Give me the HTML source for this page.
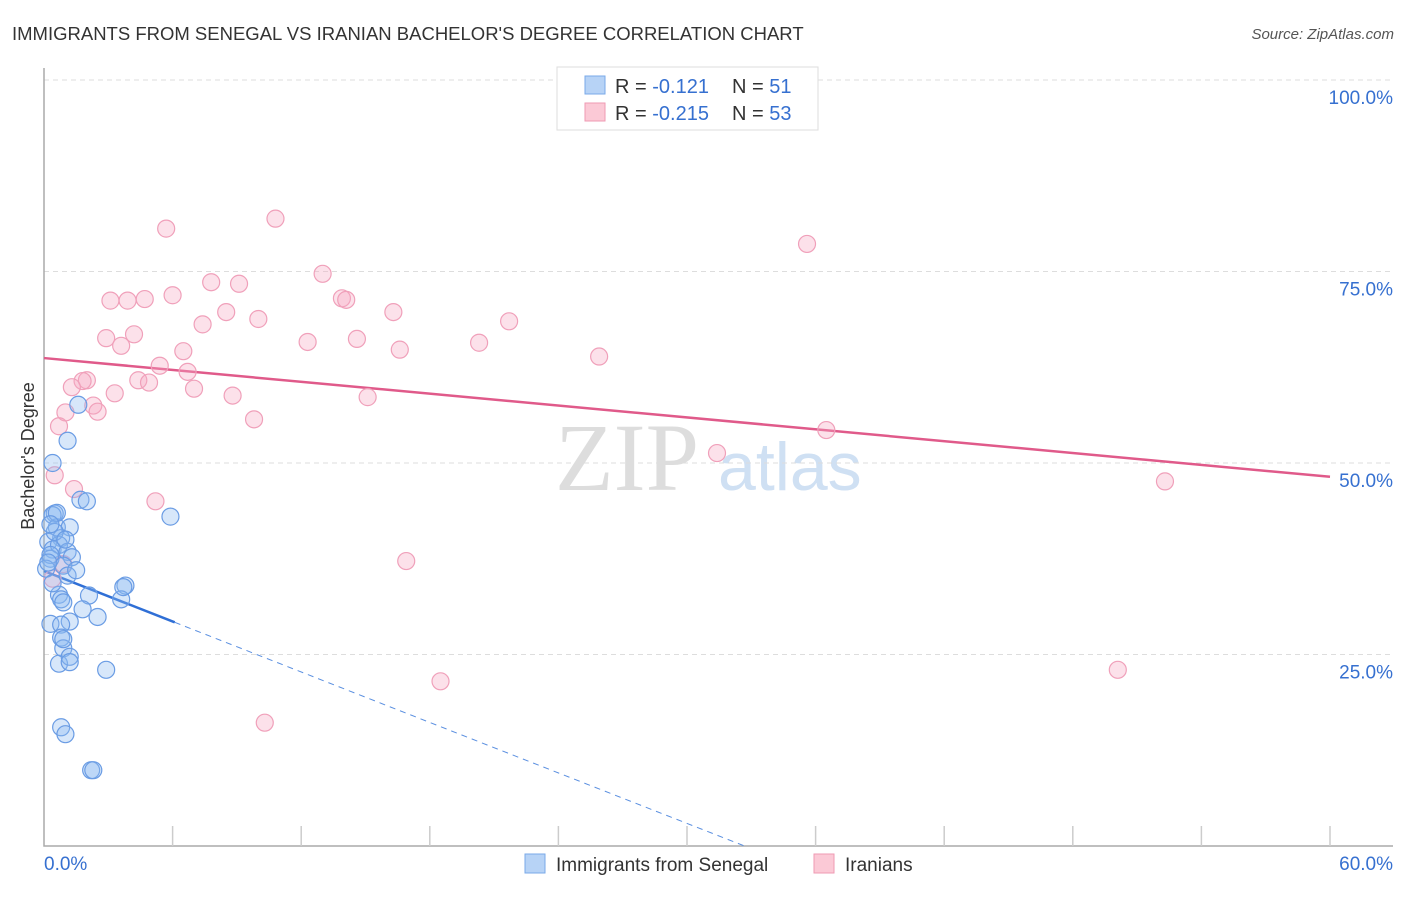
<!DOCTYPE html>
<html><head><meta charset="utf-8"><style>
body{margin:0;background:#fff;width:1406px;height:892px;overflow:hidden;font-family:"Liberation Sans",sans-serif}
</style></head><body>
<svg id="chart" width="1406" height="892" xmlns="http://www.w3.org/2000/svg" font-family="Liberation Sans, sans-serif">
<text x="12" y="40" font-size="18.5" fill="#333">IMMIGRANTS FROM SENEGAL VS IRANIAN BACHELOR'S DEGREE CORRELATION CHART</text>
<text x="1394" y="39" font-size="15" fill="#555" text-anchor="end" font-style="italic">Source: ZipAtlas.com</text>
<g>
<text x="555" y="490" font-size="96" fill="#ddd" font-family="Liberation Serif, serif">ZIP</text>
<text x="718" y="490" font-size="68" fill="#cfe0f3">atlas</text>
</g>
<g id="grid"></g><g id="axes"></g><g id="lines"></g><g id="pts"></g>
<text transform="translate(34,456) rotate(-90)" font-size="18" fill="#333" text-anchor="middle">Bachelor's Degree</text>
<g>
<rect x="557" y="67" width="261" height="63" fill="#fff" stroke="#ddd"/>
<rect x="585" y="76" width="20" height="18" fill="#b7d3f6" stroke="#7aaae8"/>
<rect x="585" y="103" width="20" height="18" fill="#fbc9d6" stroke="#ef9ab3"/>
<text x="615" y="93" font-size="20" fill="#333">R = <tspan fill="#3670d0"> -0.121</tspan><tspan x="732">N = </tspan><tspan fill="#3670d0"> 51</tspan></text>
<text x="615" y="120" font-size="20" fill="#333">R = <tspan fill="#3670d0">-0.215</tspan><tspan x="732">N = </tspan><tspan fill="#3670d0">53</tspan></text>
</g>
<g><rect x="525" y="854" width="20" height="19" fill="#b7d3f6" stroke="#7aaae8"/><text x="556" y="871" font-size="19" fill="#333">Immigrants from Senegal</text></g>
<g><rect x="814" y="854" width="20" height="19" fill="#fbc9d6" stroke="#ef9ab3"/><text x="845" y="871" font-size="19" fill="#333">Iranians</text></g>
</svg>
<script>
const blueX=[0.4,1.1,1.6,1.7,2.0,5.9,0.5,0.4,0.6,1.2,0.8,0.2,0.4,0.7,1.1,1.3,0.3,0.9,1.1,0.7,0.8,0.9,2.1,3.8,3.6,1.8,2.5,1.2,0.3,0.8,0.8,0.7,0.9,1.2,1.2,2.9,0.8,1.0,2.2,2.3,0.3,0.1,0.4,3.7,0.2,0.5,1.0,0.6,0.3,1.5,0.9];
const blueY=[50.0,52.9,57.6,45.2,45.0,43.0,43.4,43.2,41.6,41.6,40.2,39.7,38.7,39.3,38.4,37.7,37.5,36.6,35.3,32.8,32.2,31.8,32.7,34.0,32.2,30.9,29.9,29.3,29.0,28.9,27.2,23.8,25.8,24.7,24.0,23.0,15.5,14.6,9.9,9.9,38.0,36.2,34.3,33.8,37.0,41.0,40.0,43.5,42.0,36.0,27.0];
const pinkX=[5.7,10.8,35.6,7.8,13.0,9.1,3.1,3.9,4.7,6.0,7.4,8.5,10.0,13.9,14.1,16.3,21.7,2.9,4.2,3.6,12.3,14.6,16.6,20.3,25.9,5.4,6.5,6.7,4.4,4.9,2.0,1.8,1.3,7.0,8.8,3.3,15.1,2.3,2.5,1.0,0.7,9.8,36.5,31.4,0.5,1.4,5.2,52.3,16.9,0.9,0.4,18.5,50.1,10.3];
const pinkY=[80.6,81.9,78.6,73.6,74.7,73.4,71.2,71.2,71.4,71.9,68.1,69.7,68.8,71.5,71.3,69.7,68.5,66.3,66.8,65.3,65.8,66.2,64.8,65.7,63.9,62.7,64.6,61.9,60.8,60.5,60.8,60.7,59.9,59.7,58.8,59.1,58.6,57.5,56.7,56.6,54.8,55.7,54.3,51.3,48.4,46.6,45.0,47.6,37.2,36.8,34.9,21.5,23.0,16.1];
const pinkTrend=[63.7,48.2];
const blueTrend=[35.9,29.2,6.1];
const yTicks=[100,75,50,25];
const X=v=>44+v/60*1286, Y=v=>846-v/100*766;
const NS='http://www.w3.org/2000/svg';
function mk(p,t,a){const e=document.createElementNS(NS,t);for(const k in a)e.setAttribute(k,a[k]);document.getElementById(p).appendChild(e);return e;}
yTicks.forEach(t=>{
 const g=mk('grid','line',{x1:44,x2:1393,y1:Y(t),y2:Y(t),stroke:'#ddd','stroke-dasharray':'5,4'});
 
 
 const l=mk('grid','text',{x:1393,y:Y(t)+24,'font-size':19,fill:'#3670d0','text-anchor':'end'});l.textContent=t.toFixed(1)+'%';
 
 
});
const ax=mk('axes','path',{d:'M44,68V846H1393',stroke:'#aaa',fill:'none','stroke-width':1.5});


for(let i=1;i<=10;i++){const t=mk('axes','line',{x1:X(i*6),x2:X(i*6),y1:826,y2:846,stroke:'#ccc','stroke-width':1.5});
 
 }
[[0,'0.0%',44,'start'],[60,'60.0%',1393,'end']].forEach(a=>{const l=mk('axes','text',{x:a[2],y:870,'font-size':19,fill:'#3670d0','text-anchor':a[3]});l.textContent=a[1];
 
 });
const pl=mk('lines','line',{x1:X(0),y1:Y(pinkTrend[0]),x2:X(60),y2:Y(pinkTrend[1]),stroke:'#e05a8a','stroke-width':2.5});


const slope=(blueTrend[1]-blueTrend[0])/blueTrend[2], xz=-blueTrend[0]/slope;
const bl=mk('lines','line',{x1:X(0),y1:Y(blueTrend[0]),x2:X(blueTrend[2]),y2:Y(blueTrend[1]),stroke:'#2f6fd6','stroke-width':2.5});


const bd=mk('lines','line',{x1:X(blueTrend[2]),y1:Y(blueTrend[1]),x2:X(xz),y2:Y(0),stroke:'#5a8fe0','stroke-width':1,'stroke-dasharray':'6,5'});


pinkX.forEach((x,i)=>{const c=mk('pts','circle',{cx:X(x),cy:Y(pinkY[i]),r:8.5,fill:'rgba(247,170,195,0.35)',stroke:'#f0a0ba','stroke-width':1.2});
 
 });
blueX.forEach((x,i)=>{const c=mk('pts','circle',{cx:X(x),cy:Y(blueY[i]),r:8.5,fill:'rgba(140,185,240,0.35)',stroke:'#6a9ce4','stroke-width':1.2});
 
 });
</script>
</body></html>
